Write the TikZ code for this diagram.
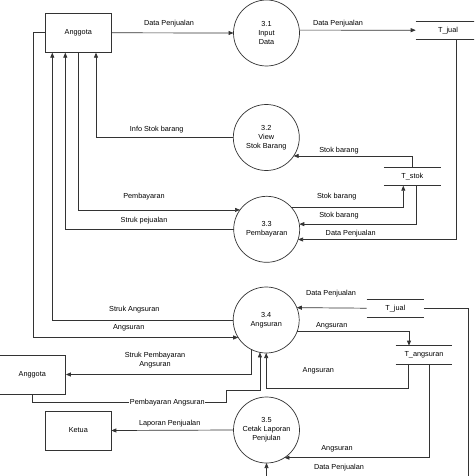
\documentclass[tikz,border=0pt]{standalone}
\usepackage{fontspec}
\setmainfont{Liberation Sans}
\usetikzlibrary{arrows.meta}
\begin{document}
\begin{tikzpicture}[x=1pt,y=-1pt, font=\fontsize{7.3}{9}\selectfont,
  line/.style={draw=black!80, line width=0.7pt},
  arr/.style={line, -{Triangle[length=5pt,width=4pt]}},
  ent/.style={draw=black!80, line width=0.7pt, minimum width=65.3pt, minimum height=39pt, inner sep=0pt},
  proc/.style={circle, draw=black!80, line width=0.7pt, minimum size=66pt, inner sep=0pt, outer sep=0pt, align=center},
  store/.style={inner sep=0pt, outer sep=0pt},
  lbl/.style={inner sep=1pt}]
\useasboundingbox (0,0) rectangle (474,476);
\clip (0,0) rectangle (474,476);
\fill[white] (0,0) rectangle (474,476);

% external entities
\node[ent] (a1) at (78.3,32.8) {Anggota};
\node[ent, minimum width=66.5pt, minimum height=38.7pt] (a2) at (32.3,374.5) {Anggota};
\node[ent] (ke) at (78.3,430.5) {Ketua};

% processes
\node[proc] (p31) at (266.5,33) {3.1\\Input\\Data};
\node[proc] (p32) at (266.3,137.5) {3.2\\View\\Stok Barang};
\node[proc] (p33) at (266.7,229.3) {3.3\\Pembayaran};
\node[proc] (p34) at (266.2,320) {3.4\\Angsuran};
\node[proc] (p35) at (266.5,430) {3.5\\Cetak Laporan\\Penjulan};

% data stores
\node[store, minimum width=64.6pt, minimum height=18.3pt] (tj1) at (448,30.2) {T\_jual};
\node[store, minimum width=56.7pt, minimum height=18pt] (ts) at (412.3,176.7) {T\_stok};
\node[store, minimum width=57.3pt, minimum height=18.3pt] (tj2) at (395.3,308.2) {T\_jual};
\node[store, minimum width=56.6pt, minimum height=18.3pt] (ta) at (424,354.8) {T\_angsuran};
\foreach \s in {tj1,ts,tj2,ta}{
  \draw[line] (\s.north west) -- (\s.north east) (\s.south west) -- (\s.south east);
}

% flows
\draw[arr] (a1.east) -- (p31.west);
\draw[arr] (p31.5) -- (tj1.west);
\draw[arr] ([xshift=8pt]tj1.south) |- (p33.342);
\draw[arr] (ts.north) |- (p32.326);
\draw[arr] (p32.west) -| ([xshift=17.7pt]a1.south);
\draw[arr] (a1.south) |- (p33.144);
\draw[arr] (p33.west) -| ([xshift=-13pt]a1.south);
\draw[arr] (p34.west) -| ([xshift=-26pt]a1.south);
\draw[arr] (a1.west) -- ++(-12.4,0) |- (p34.212);
\draw[arr] (p33.42) -| ([xshift=-9pt]ts.south);
\draw[arr] ([xshift=3.7pt]ts.south) |- (p33.9);
\draw[arr] (tj2.west) -- (p34.22);
\draw[arr] (tj2.east) -| (468.3,490) -| (p35.south);
\draw[arr] (p34.339) -| ([xshift=-15pt]ta.north);
\draw[arr] ([xshift=-15.7pt]ta.south) -- ++(0,24.5) -| (p34.south);
\draw[arr] ([xshift=5.3pt]ta.south) |- (p35.303);
\draw[arr] (p34.244) |- (a2.east);
\draw[arr] (a2.south) |- (226.7,402.7) -- (226.7,390.3) -| (p34.259);
\draw[arr] (p35.west) -- (ke.east);

% labels
\node[lbl] (l1) at (169,23.3) {Data Penjualan};
\node[lbl] (l2) at (338,23.3) {Data Penjualan};
\node[lbl] (l3) at (156.7,130) {Info Stok barang};
\node[lbl] (l4) at (339,150.7) {Stok barang};
\node[lbl] (l5) at (144,197) {Pembayaran};
\node[lbl] (l6) at (336.7,197) {Stok barang};
\node[lbl] (l7) at (144,221) {Struk pejualan};
\node[lbl] (l8) at (339,215.7) {Stok barang};
\node[lbl] (l9) at (350.7,234) {Data Penjualan};
\node[lbl] (l10) at (331,294) {Data Penjualan};
\node[lbl] (l11) at (134.3,309.3) {Struk Angsuran};
\node[lbl] (l12) at (331.7,325.3) {Angsuran};
\node[lbl] (l13) at (128.7,327.7) {Angsuran};
\node[lbl, align=center, font=\fontsize{7.3}{8.7}\selectfont] (l14) at (155,360.3) {Struk Pembayaran\\Angsuran};
\node[lbl] (l15) at (318.3,371) {Angsuran};
\node[lbl, fill=white, inner sep=0.5pt] (l16) at (167.3,402.7) {Pembayaran Angsuran};
\node[lbl] (l17) at (169.7,423.3) {Laporan Penjualan};
\node[lbl] (l18) at (337,449) {Angsuran};
\node[lbl] (l19) at (339,468) {Data Penjualan};
\end{tikzpicture}
\end{document}
